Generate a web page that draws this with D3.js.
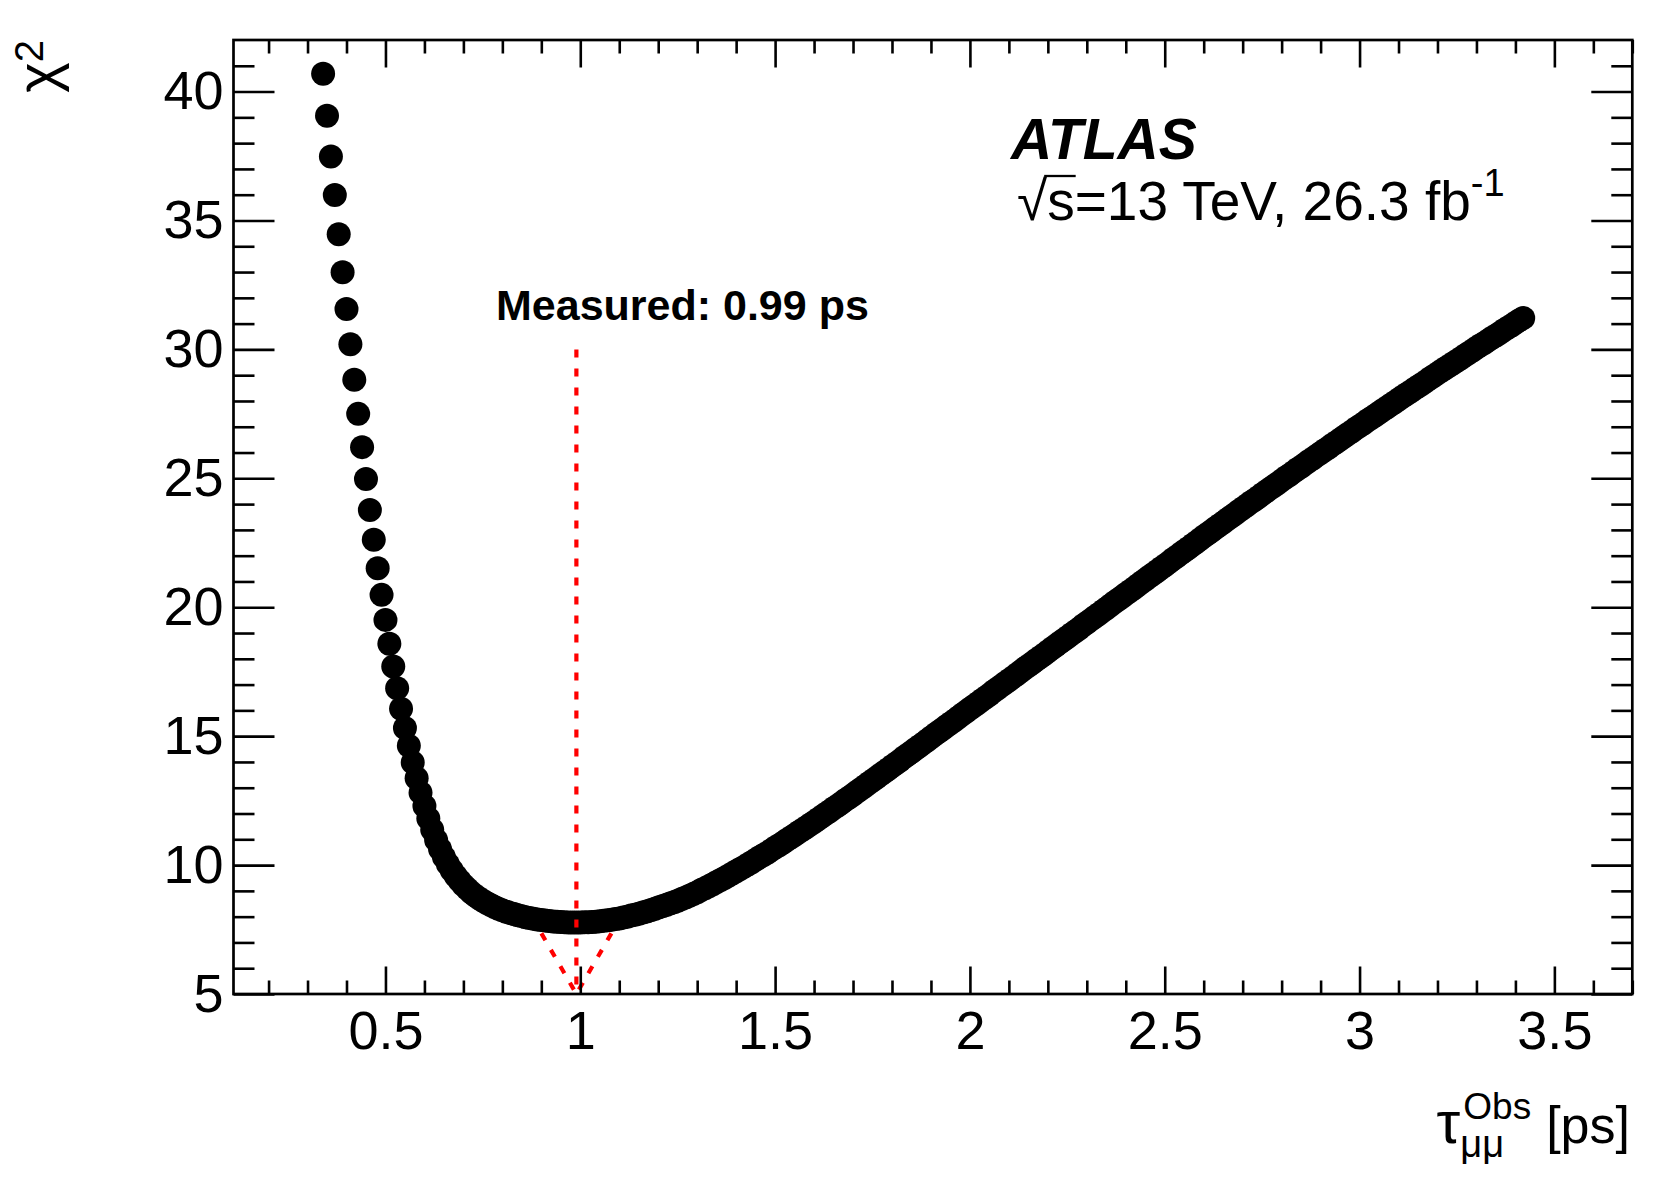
<!DOCTYPE html>
<html><head><meta charset="utf-8">
<script src="https://cdn.jsdelivr.net/npm/d3@7"></script>
<style>
body{margin:0;background:#fff}
svg{display:block}
text{font-family:"Liberation Sans",Arial,Helvetica,sans-serif;fill:#000}
</style>
</head><body>
<svg id="chart" width="1665" height="1182"></svg>
<script>
// ---------------- data ----------------
const tau = [
0.34,0.35,0.36,0.37,0.38,0.39,
0.40,0.41,0.42,0.43,0.44,0.45,0.46,0.47,0.48,0.49,
0.50,0.51,0.52,0.53,0.54,0.55,0.56,0.57,0.58,0.59,
0.60,0.61,0.62,0.63,0.64,0.65,0.66,0.67,0.68,0.69,
0.70,0.71,0.72,0.73,0.74,0.75,0.76,0.77,0.78,0.79,
0.80,0.81,0.82,0.83,0.84,0.85,0.86,0.87,0.88,0.89,
0.90,0.91,0.92,0.93,0.94,0.95,0.96,0.97,0.98,0.99,
1.00,1.01,1.02,1.03,1.04,1.05,1.06,1.07,1.08,1.09,
1.10,1.11,1.12,1.13,1.14,1.15,1.16,1.17,1.18,1.19,
1.20,1.21,1.22,1.23,1.24,1.25,1.26,1.27,1.28,1.29,
1.30,1.31,1.32,1.33,1.34,1.35,1.36,1.37,1.38,1.39,
1.40,1.41,1.42,1.43,1.44,1.45,1.46,1.47,1.48,1.49,
1.50,1.51,1.52,1.53,1.54,1.55,1.56,1.57,1.58,1.59,
1.60,1.61,1.62,1.63,1.64,1.65,1.66,1.67,1.68,1.69,
1.70,1.71,1.72,1.73,1.74,1.75,1.76,1.77,1.78,1.79,
1.80,1.81,1.82,1.83,1.84,1.85,1.86,1.87,1.88,1.89,
1.90,1.91,1.92,1.93,1.94,1.95,1.96,1.97,1.98,1.99,
2.00,2.01,2.02,2.03,2.04,2.05,2.06,2.07,2.08,2.09,
2.10,2.11,2.12,2.13,2.14,2.15,2.16,2.17,2.18,2.19,
2.20,2.21,2.22,2.23,2.24,2.25,2.26,2.27,2.28,2.29,
2.30,2.31,2.32,2.33,2.34,2.35,2.36,2.37,2.38,2.39,
2.40,2.41,2.42,2.43,2.44,2.45,2.46,2.47,2.48,2.49,
2.50,2.51,2.52,2.53,2.54,2.55,2.56,2.57,2.58,2.59,
2.60,2.61,2.62,2.63,2.64,2.65,2.66,2.67,2.68,2.69,
2.70,2.71,2.72,2.73,2.74,2.75,2.76,2.77,2.78,2.79,
2.80,2.81,2.82,2.83,2.84,2.85,2.86,2.87,2.88,2.89,
2.90,2.91,2.92,2.93,2.94,2.95,2.96,2.97,2.98,2.99,
3.00,3.01,3.02,3.03,3.04,3.05,3.06,3.07,3.08,3.09,
3.10,3.11,3.12,3.13,3.14,3.15,3.16,3.17,3.18,3.19,
3.20,3.21,3.22,3.23,3.24,3.25,3.26,3.27,3.28,3.29,
3.30,3.31,3.32,3.33,3.34,3.35,3.36,3.37,3.38,3.39,
3.40,3.41,3.42
];
const chi2 = [
40.69,39.06,37.48,35.99,34.47,32.99,
31.57,30.20,28.82,27.50,26.21,24.97,23.77,22.62,21.51,20.48,
19.51,18.58,17.70,16.86,16.06,15.32,14.63,13.98,13.37,12.81,
12.29,11.81,11.37,10.97,10.62,10.31,10.04,9.80,9.59,9.40,
9.23,9.08,8.94,8.82,8.71,8.62,8.53,8.45,8.37,8.31,
8.25,8.19,8.14,8.10,8.05,8.02,7.98,7.95,7.92,7.89,
7.87,7.85,7.83,7.81,7.80,7.79,7.78,7.77,7.77,7.77,
7.77,7.78,7.78,7.79,7.80,7.82,7.84,7.86,7.88,7.91,
7.93,7.97,8.00,8.04,8.07,8.11,8.16,8.20,8.25,8.30,
8.35,8.40,8.45,8.51,8.56,8.62,8.68,8.74,8.81,8.88,
8.95,9.03,9.10,9.18,9.26,9.34,9.42,9.50,9.59,9.67,
9.76,9.85,9.93,10.02,10.11,10.21,10.30,10.39,10.48,10.58,
10.68,10.77,10.87,10.97,11.07,11.17,11.27,11.37,11.47,11.57,
11.67,11.78,11.88,11.99,12.09,12.20,12.30,12.41,12.52,12.62,
12.73,12.84,12.95,13.06,13.17,13.28,13.39,13.50,13.61,13.72,
13.83,13.94,14.05,14.17,14.28,14.39,14.50,14.61,14.72,14.83,
14.95,15.06,15.17,15.28,15.39,15.50,15.61,15.72,15.84,15.95,
16.06,16.17,16.28,16.39,16.50,16.61,16.73,16.84,16.95,17.06,
17.17,17.28,17.39,17.51,17.62,17.73,17.84,17.95,18.06,18.17,
18.28,18.40,18.51,18.62,18.73,18.84,18.95,19.06,19.17,19.29,
19.40,19.51,19.62,19.73,19.84,19.95,20.07,20.18,20.29,20.40,
20.51,20.62,20.73,20.84,20.96,21.07,21.18,21.29,21.40,21.51,
21.62,21.73,21.85,21.96,22.07,22.18,22.29,22.40,22.51,22.63,
22.74,22.85,22.96,23.07,23.18,23.29,23.40,23.51,23.62,23.73,
23.84,23.95,24.06,24.16,24.27,24.38,24.49,24.60,24.70,24.81,
24.92,25.03,25.13,25.24,25.35,25.45,25.56,25.67,25.77,25.88,
25.98,26.09,26.19,26.30,26.40,26.51,26.61,26.72,26.82,26.93,
27.03,27.13,27.24,27.34,27.44,27.54,27.65,27.75,27.85,27.95,
28.06,28.16,28.26,28.36,28.46,28.56,28.66,28.76,28.87,28.97,
29.07,29.17,29.27,29.37,29.46,29.56,29.66,29.76,29.86,29.96,
30.06,30.16,30.25,30.35,30.45,30.54,30.64,30.74,30.84,30.93,
31.03,31.13,31.22
];
const xMajorTicks = [0.5,1,1.5,2,2.5,3,3.5];
const xTickLabels = ["0.5","1","1.5","2","2.5","3","3.5"];
const xMinorTicks = [0.2,0.3,0.4,0.6,0.7,0.8,0.9,1.1,1.2,1.3,1.4,1.6,1.7,1.8,1.9,
  2.1,2.2,2.3,2.4,2.6,2.7,2.8,2.9,3.1,3.2,3.3,3.4,3.6,3.7];
const yMajorTicks = [5,10,15,20,25,30,35,40];
const yTickLabels = ["5","10","15","20","25","30","35","40"];
const yMinorTicks = [6,7,8,9,11,12,13,14,16,17,18,19,21,22,23,24,26,27,28,29,
  31,32,33,34,36,37,38,39,41];
const xDomain = [0.11, 3.7];
const yDomain = [5, 42];
const measuredTau = 0.99;      // arrow position
const arrowTopChi2 = 30;       // arrow start
const arrowTipChi2 = 5;        // arrow tip
const measuredLabel = "Measured: 0.99 ps";

// ---------------- layout ----------------
const W = 1665, H = 1182;
const frame = {left: 233.5, right: 1632.3, top: 40, bottom: 994};
const svg = d3.select("#chart");
svg.append("rect").attr("width", W).attr("height", H).attr("fill", "#fff");

const x = d3.scaleLinear().domain(xDomain).range([frame.left, frame.right]);
const y = d3.scaleLinear().domain(yDomain).range([frame.bottom, frame.top]);

// ---------------- markers ----------------
const pts = tau.map((t, i) => ({t, c: chi2[i]}));
svg.append("g").selectAll("circle").data(pts).join("circle")
  .attr("cx", d => x(d.t)).attr("cy", d => y(d.c)).attr("r", 12).attr("fill", "#000");

// ---------------- red arrow ----------------
const red = svg.append("g").attr("stroke", "#ff0000").attr("stroke-width", 4.2)
  .attr("stroke-dasharray", "8 11").attr("fill", "none");
const ax = x(measuredTau), tipY = y(arrowTipChi2);
red.append("line").attr("x1", ax).attr("x2", ax).attr("y1", y(arrowTopChi2)).attr("y2", tipY);
const headLen = 70, headAng = 30 * Math.PI / 180;
[-1, 1].forEach(s => {
  red.append("line")
    .attr("x1", ax + s * headLen * Math.sin(headAng)).attr("y1", tipY - headLen * Math.cos(headAng))
    .attr("x2", ax).attr("y2", tipY);
});

// ---------------- axes ----------------
const tickW = 2.6;
function styleAxis(g) {
  g.select(".domain").remove();
  g.selectAll(".tick line").attr("stroke", "#000").attr("stroke-width", tickW);
  g.selectAll(".tick text").style("font-size", "54px").attr("fill", "#000")
   .style("font-family", '"Liberation Sans",Arial,sans-serif');
}
// bottom
svg.append("g").attr("transform", `translate(0,${frame.bottom})`)
  .call(d3.axisBottom(x).tickValues(xMajorTicks).tickSize(-27.5).tickPadding(17)
    .tickFormat((d, i) => xTickLabels[i])).call(styleAxis);
svg.append("g").attr("transform", `translate(0,${frame.bottom})`)
  .call(d3.axisBottom(x).tickValues(xMinorTicks).tickSize(-13.5).tickFormat("")).call(styleAxis);
// top
svg.append("g").attr("transform", `translate(0,${frame.top})`)
  .call(d3.axisTop(x).tickValues(xMajorTicks).tickSize(-27.5).tickFormat("")).call(styleAxis);
svg.append("g").attr("transform", `translate(0,${frame.top})`)
  .call(d3.axisTop(x).tickValues(xMinorTicks).tickSize(-13.5).tickFormat("")).call(styleAxis);
// left
svg.append("g").attr("transform", `translate(${frame.left},0)`)
  .call(d3.axisLeft(y).tickValues(yMajorTicks).tickSize(-41).tickPadding(10)
    .tickFormat((d, i) => yTickLabels[i])).call(styleAxis);
svg.append("g").attr("transform", `translate(${frame.left},0)`)
  .call(d3.axisLeft(y).tickValues(yMinorTicks).tickSize(-21).tickFormat("")).call(styleAxis);
// right
svg.append("g").attr("transform", `translate(${frame.right},0)`)
  .call(d3.axisRight(y).tickValues(yMajorTicks).tickSize(-41).tickFormat("")).call(styleAxis);
svg.append("g").attr("transform", `translate(${frame.right},0)`)
  .call(d3.axisRight(y).tickValues(yMinorTicks).tickSize(-21).tickFormat("")).call(styleAxis);

// frame
svg.append("rect").attr("x", frame.left).attr("y", frame.top)
  .attr("width", frame.right - frame.left).attr("height", frame.bottom - frame.top)
  .attr("fill", "none").attr("stroke", "#000").attr("stroke-width", 2.7);

// ---------------- texts ----------------
svg.append("text").attr("x", 496).attr("y", 319.5)
  .style("font-size", "43px").style("font-weight", "bold").text(measuredLabel);

svg.append("text").attr("x", 1011).attr("y", 159)
  .style("font-size", "57px").style("font-weight", "bold").style("font-style", "italic").text("ATLAS");

const l2base = 220;
const l2 = svg.append("text").attr("x", 1017).attr("y", l2base).style("font-size", "55px");
l2.append("tspan").text("\u221A");
l2.append("tspan").text("s=13 TeV, 26.3 fb");
l2.append("tspan").attr("dy", -24).style("font-size", "38px").text("-1");
{
  const n = l2.node();
  const s1 = n.getEndPositionOfChar(1).x;
  const r1 = n.getEndPositionOfChar(0).x;
  svg.append("line").attr("x1", r1 - 3).attr("x2", s1 + 1).attr("y1", l2base - 44).attr("y2", l2base - 44)
    .attr("stroke", "#000").attr("stroke-width", 2.3);
}

// y title chi^2 (rotated)
const yt = svg.append("text").attr("transform", "translate(57,40) rotate(-90)")
  .attr("text-anchor", "end").style("font-size", "58px");
yt.append("tspan").text("\u03C7");
yt.append("tspan").attr("dy", -14).style("font-size", "40px").text("2");

// x title tau_{mumu}^{Obs} [ps]
{
  const base = 1143, right = 1630;
  const ps = svg.append("text").attr("x", right).attr("y", base).attr("text-anchor", "end")
    .style("font-size", "52px").text("[ps]");
  const psW = ps.node().getComputedTextLength();
  const obs = svg.append("text").attr("y", base - 24).style("font-size", "37px").text("Obs");
  const obsW = obs.node().getComputedTextLength();
  const sx = right - psW - 15 - obsW - 3;
  obs.attr("x", sx + 3);
  svg.append("text").attr("x", sx).attr("y", base + 14).style("font-size", "38px").text("\u03BC\u03BC");
  svg.append("text").attr("x", sx).attr("y", base).attr("text-anchor", "end")
    .style("font-size", "60px").text("\u03C4");
}
</script>
</body></html>
